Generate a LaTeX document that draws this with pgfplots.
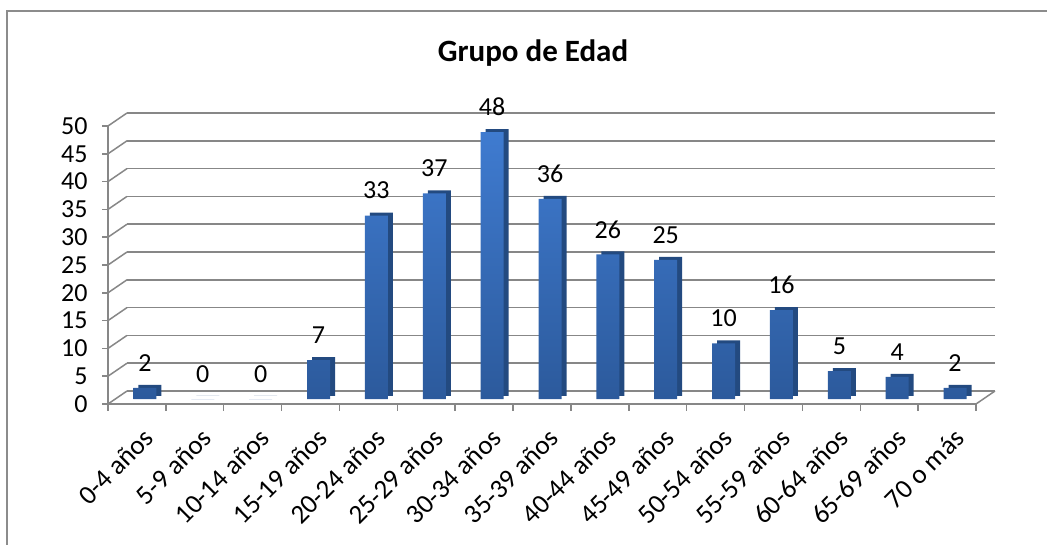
\documentclass[border=0pt]{standalone}
\usepackage{pgfplots}
\pgfplotsset{compat=1.18}
\usepackage{pgfplotstable}
\usepackage{fontspec}
\setmainfont{Carlito}
\definecolor{gridgray}{HTML}{878787}
\definecolor{framegray}{HTML}{8C8C8C}
\definecolor{bartop}{HTML}{3F7BD0}
\definecolor{barbot}{HTML}{2C5A9C}
\definecolor{barside}{HTML}{234A80}
\pgfplotstableread{
idx val
0 2
1 0
2 0
3 7
4 33
5 37
6 48
7 36
8 26
9 25
10 10
11 16
12 5
13 4
14 2
}\agedata
\pgfplotsset{
  base/.style={width=868pt,height=278pt,scale only axis,
    xmin=-0.5,xmax=14.5,ymin=0,ymax=50,anchor=south west,
    /pgf/number format/assume math mode=true},
  bars/.style={base,hide axis,clip=false,ybar,bar width=23pt}
}
\begin{document}
\begin{tikzpicture}[x=1pt,y=1pt]
\useasboundingbox (0,0) rectangle (1047,544);
\draw[framegray,line width=2pt] (7,-3) -- (7,533) -- (1050,533);
\node[font=\fontsize{31}{36}\selectfont\bfseries] at (533,491) {Grupo de Edad};
% back wall
\begin{axis}[base,at={(127pt,153pt)},
  axis line style={draw=none},tick style={draw=none},
  xtick=\empty,ytick={0,5,...,50},yticklabels={},
  ymajorgrids,major grid style={gridgray,line width=1.5pt}]
\end{axis}
% side wall diagonals and floor
\foreach \v in {0,5,...,50} \draw[gridgray,line width=1.5pt] (108,140+\v*5.56) -- ++(19,13);
\draw[gridgray,line width=1.5pt] (976,140) -- ++(19,13);
\foreach \i in {0,...,15} \draw[gridgray,line width=1.5pt] (108+57.867*\i,140) -- ++(0,-7);
% front axis
\begin{axis}[base,at={(108pt,140pt)},
  axis x line*=bottom,axis y line*=left,
  axis line style={gridgray,line width=1.5pt},
  xtick={0,...,14},
  xticklabels={0-4 años,5-9 años,10-14 años,15-19 años,20-24 años,25-29 años,30-34 años,35-39 años,40-44 años,45-49 años,50-54 años,55-59 años,60-64 años,65-69 años,70 o más},
  xtick style={draw=none},
  ytick={0,5,...,50},
  ytick style={gridgray,line width=1.5pt},
  tick align=outside,major tick length=6pt,
  yticklabel style={font=\fontsize{26}{30}\selectfont,xshift=-11pt},
  xticklabel style={font=\fontsize{27}{32}\selectfont,rotate=45,anchor=north east,inner sep=0pt,xshift=-8pt,yshift=-16pt}]
\end{axis}
% bar sides
\begin{axis}[bars,at={(121pt,148pt)}]
\addplot[fill=barside,draw=none] table[x=idx,y=val]{\agedata};
\end{axis}
% bar fronts
\begin{axis}[bars,at={(116pt,145pt)},
  nodes near coords,
  every node near coord/.append style={font=\fontsize{26}{30}\selectfont,anchor=center,yshift=25pt,text=black}]
\addplot[top color=bartop,bottom color=barbot,draw=none] table[x=idx,y=val]{\agedata};
\end{axis}
\end{tikzpicture}
\end{document}
